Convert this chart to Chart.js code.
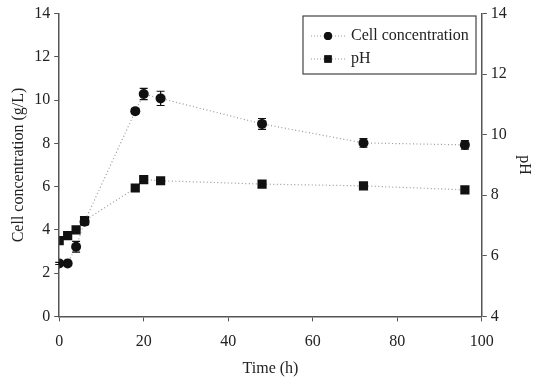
<!DOCTYPE html>
<html>
<head>
<meta charset="utf-8">
<script src="https://cdn.jsdelivr.net/npm/chart.js@4"></script>
<style>
  html, body { margin: 0; padding: 0; background: #fff; }
  #wrap { width: 550px; height: 385px; }
</style>
</head>
<body>
<div id="wrap"><canvas id="chartCell"></canvas></div>
<script>
/* data */
const waktu = [0, 2, 4, 6, 18, 20, 24, 48, 72, 96];
const cellConc = [2.45, 2.45, 3.22, 4.38, 9.49, 10.28, 10.08, 8.9, 8.02, 7.93];
const cellErr = [0.05, 0.05, 0.25, 0.15, 0.12, 0.26, 0.33, 0.25, 0.2, 0.2];
const phAir = [6.5, 6.67, 6.86, 7.16, 8.24, 8.52, 8.48, 8.37, 8.31, 8.18];
const xTicks = [0, 20, 40, 60, 80, 100];
const yLeftTicks = [0, 2, 4, 6, 8, 10, 12, 14];
const yRightTicks = [4, 6, 8, 10, 12, 14];

const FONT = "'Liberation Serif', 'DejaVu Serif', serif";
const AXIS = '#555';

/* error bars, drawn through the y scale */
const errorBars = {
    id: 'errorBars',
    afterDatasetsDraw(chart) {
        const meta = chart.getDatasetMeta(0);
        const ys = chart.scales.y;
        const c = chart.ctx;
        c.save();
        c.strokeStyle = '#111';
        c.lineWidth = 1.2;
        meta.data.forEach((pt, i) => {
            const top = ys.getPixelForValue(cellConc[i] + cellErr[i]);
            const bot = ys.getPixelForValue(cellConc[i] - cellErr[i]);
            c.beginPath();
            c.moveTo(pt.x, top); c.lineTo(pt.x, bot);
            c.moveTo(pt.x - 4, top); c.lineTo(pt.x + 4, top);
            c.moveTo(pt.x - 4, bot); c.lineTo(pt.x + 4, bot);
            c.stroke();
        });
        c.restore();
    }
};

/* boxed legend in the top right corner */
const boxLegend = {
    id: 'boxLegend',
    afterDraw(chart) {
        const c = chart.ctx;
        const x0 = 303, y0 = 16, w = 173, h = 58;
        c.save();
        c.strokeStyle = '#444';
        c.lineWidth = 1.2;
        c.fillStyle = '#fff';
        c.fillRect(x0, y0, w, h);
        c.strokeRect(x0, y0, w, h);
        c.font = '16px ' + FONT;
        c.textBaseline = 'middle';
        chart.data.datasets.forEach((ds, i) => {
            const y = y0 + 20 + i * 23;
            c.strokeStyle = ds.borderColor;
            c.lineWidth = 1;
            c.setLineDash([1, 2]);
            c.beginPath();
            c.moveTo(x0 + 8, y); c.lineTo(x0 + 42, y);
            c.stroke();
            c.setLineDash([]);
            c.fillStyle = '#111';
            Chart.helpers.drawPoint(c, {
                pointStyle: ds.pointStyle, radius: ds.pointRadius * 0.8, borderWidth: 0
            }, x0 + 25, y);
            c.fill();
            c.fillStyle = '#222';
            c.fillText(ds.label, x0 + 48, y);
        });
        c.restore();
    }
};

const ctx = document.getElementById('chartCell').getContext('2d');
const chartCell = new Chart(ctx, {
    type: 'line',
    data: {
        labels: waktu,
        datasets: [
            {
                label: 'Cell concentration',
                data: waktu.map((t, i) => ({ x: t, y: cellConc[i] })),
                yAxisID: 'y',
                borderColor: '#999',
                borderWidth: 1.2,
                borderDash: [1, 2.5],
                pointStyle: 'circle',
                pointRadius: 5,
                pointBackgroundColor: '#111',
                pointBorderColor: '#111',
                pointBorderWidth: 0,
                tension: 0
            },
            {
                label: 'pH',
                data: waktu.map((t, i) => ({ x: t, y: phAir[i] })),
                yAxisID: 'y1',
                borderColor: '#999',
                borderWidth: 1.2,
                borderDash: [1, 2.5],
                pointStyle: 'rect',
                pointRadius: 6.5,
                pointBackgroundColor: '#111',
                pointBorderColor: '#111',
                pointBorderWidth: 0,
                tension: 0
            }
        ]
    },
    options: {
        responsive: true,
        maintainAspectRatio: false,
        animation: false,
        layout: { padding: { top: 2, right: 2, left: 5, bottom: 10 } },
        plugins: {
            legend: { display: false },
            tooltip: { enabled: false }
        },
        scales: {
            x: {
                type: 'linear',
                min: 0, max: 100,
                afterBuildTicks: s => { s.ticks = xTicks.map(v => ({ value: v })); },
                grid: { drawOnChartArea: false, color: AXIS, tickLength: 5 },
                border: { color: AXIS, width: 1.5 },
                ticks: { color: '#222', font: { family: FONT, size: 16, lineHeight: 0.8 }, padding: 14, maxRotation: 0 },
                title: { display: true, text: 'Time (h)', color: '#222', font: { family: FONT, size: 16, lineHeight: 0.8 }, padding: 0 }
            },
            y: {
                position: 'left',
                min: 0, max: 14,
                afterBuildTicks: s => { s.ticks = yLeftTicks.map(v => ({ value: v })); },
                grid: { drawOnChartArea: false, color: AXIS, tickLength: 5 },
                border: { color: AXIS, width: 1.5 },
                ticks: { color: '#222', font: { family: FONT, size: 16 }, padding: 4 },
                title: { display: true, text: 'Cell concentration (g/L)', color: '#222', font: { family: FONT, size: 16 }, padding: { bottom: 2 } }
            },
            y1: {
                position: 'right',
                min: 4, max: 14,
                afterBuildTicks: s => { s.ticks = yRightTicks.map(v => ({ value: v })); },
                grid: { drawOnChartArea: false, color: AXIS, tickLength: 5 },
                border: { color: AXIS, width: 1.5 },
                ticks: { color: '#222', font: { family: FONT, size: 16 }, padding: 4 },
                title: { display: true, text: 'pH', color: '#222', font: { family: FONT, size: 16 }, padding: { top: 14 } }
            }
        }
    },
    plugins: [errorBars, boxLegend]
});
</script>
</body>
</html>
